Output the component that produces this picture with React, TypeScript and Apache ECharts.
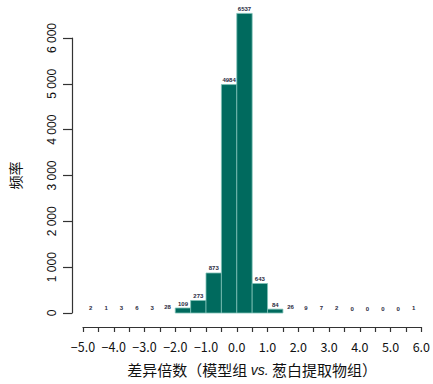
import React, { useEffect, useRef } from "react";
import * as echarts from "echarts";

const binStarts = [-5, -4.5, -4, -3.5, -3, -2.5, -2, -1.5, -1, -0.5, 0, 0.5, 1, 1.5, 2, 2.5, 3, 3.5, 4, 4.5, 5, 5.5];
const binEnds = [-4.5, -4, -3.5, -3, -2.5, -2, -1.5, -1, -0.5, 0, 0.5, 1, 1.5, 2, 2.5, 3, 3.5, 4, 4.5, 5, 5.5, 6];
const counts = [2, 1, 3, 6, 3, 28, 109, 273, 873, 4984, 6537, 643, 84, 26, 9, 7, 2, 0, 0, 0, 0, 1];
const yTicks = [0, 1000, 2000, 3000, 4000, 5000, 6000];
const xTitle = "差异倍数（模型组 ";
const xTitleVs = "vs.";
const xTitleEnd = " 葱白提取物组）";
const yTitle = "频率";

export default function App() {
  const ref = useRef<HTMLDivElement>(null);
  useEffect(() => {
    document.body.style.margin = "0";
    const chart = echarts.init(ref.current!, null, { renderer: "svg" });
    const data = binStarts.map((s, i) => [s, binEnds[i], counts[i]]);
    chart.setOption({
      animation: false,
      backgroundColor: "#ffffff",
      grid: { left: 82, right: 11, top: 38, bottom: 71 },
      xAxis: {
        type: "value",
        min: -5,
        max: 6,
        interval: 0.5,
        offset: 14,
        splitLine: { show: false },
        axisLine: { show: true, onZero: false, lineStyle: { color: "#333", width: 1.2 } },
        axisTick: { show: true, length: 5, lineStyle: { color: "#333", width: 1.2 } },
        axisLabel: {
          margin: 13,
          fontSize: 12.5,
          color: "#111",
          fontFamily: "Noto Sans CJK JP",
          formatter: (v: number) => {
            if (Math.abs(v - Math.round(v)) > 1e-6) return "";
            const s = Math.abs(v).toFixed(1);
            return v < 0 ? "\u2212" + s : s;
          },
        },
        name: `{a|${xTitle}}{b|${xTitleVs}}{a|${xTitleEnd}}`,
        nameLocation: "middle",
        nameGap: 35,
        nameTextStyle: {
          rich: {
            a: { fontSize: 15, color: "#111", fontFamily: "Noto Sans CJK SC" },
            b: { fontSize: 14, color: "#111", fontStyle: "italic", fontFamily: "Liberation Sans" },
          },
        },
      },
      yAxis: {
        type: "value",
        min: 0,
        max: 6000,
        interval: 1000,
        offset: 11,
        splitLine: { show: false },
        axisLine: { show: true, onZero: false, lineStyle: { color: "#333", width: 1.2 } },
        axisTick: { show: true, length: 9, lineStyle: { color: "#333", width: 1.2 } },
        axisLabel: {
          rotate: 90,
          margin: 14,
          fontSize: 12,
          color: "#111",
          fontFamily: "Liberation Sans",
          formatter: (v: number) => {
            if (!yTicks.includes(v)) return "";
            if (v === 0) return "0";
            return String(v / 1000) + " 000";
          },
        },
        name: yTitle,
        nameLocation: "middle",
        nameRotate: 90,
        nameGap: 50,
        nameTextStyle: { fontSize: 14, color: "#111", fontFamily: "Noto Sans CJK SC" },
      },
      series: [
        {
          type: "custom",
          clip: false,
          data,
          encode: { x: [0, 1], y: 2 },
          renderItem: (params: any, api: any) => {
            const x0 = api.value(0);
            const x1 = api.value(1);
            const c = api.value(2);
            const p0 = api.coord([x0, 0]);
            const p1 = api.coord([x1, c]);
            const h = p0[1] - p1[1];
            const children: any[] = [];
            if (h >= 2) {
              children.push({
                type: "rect",
                shape: { x: p0[0], y: p1[1], width: p1[0] - p0[0], height: h },
                style: { fill: "#006a5e", stroke: "#7fc0b6", lineWidth: 0.8 },
              });
            }
            children.push({
              type: "text",
              x: (p0[0] + p1[0]) / 2,
              y: p1[1] - 1.5,
              style: {
                text: String(c),
                fontSize: 6,
                fontWeight: "bold",
                fill: "#2a2a40",
                align: "center",
                verticalAlign: "bottom",
                fontFamily: "Liberation Sans",
              },
            });
            return { type: "group", children };
          },
        },
      ],
    });
    return () => chart.dispose();
  }, []);
  return <div ref={ref} style={{ width: 433, height: 384 }} />;
}
